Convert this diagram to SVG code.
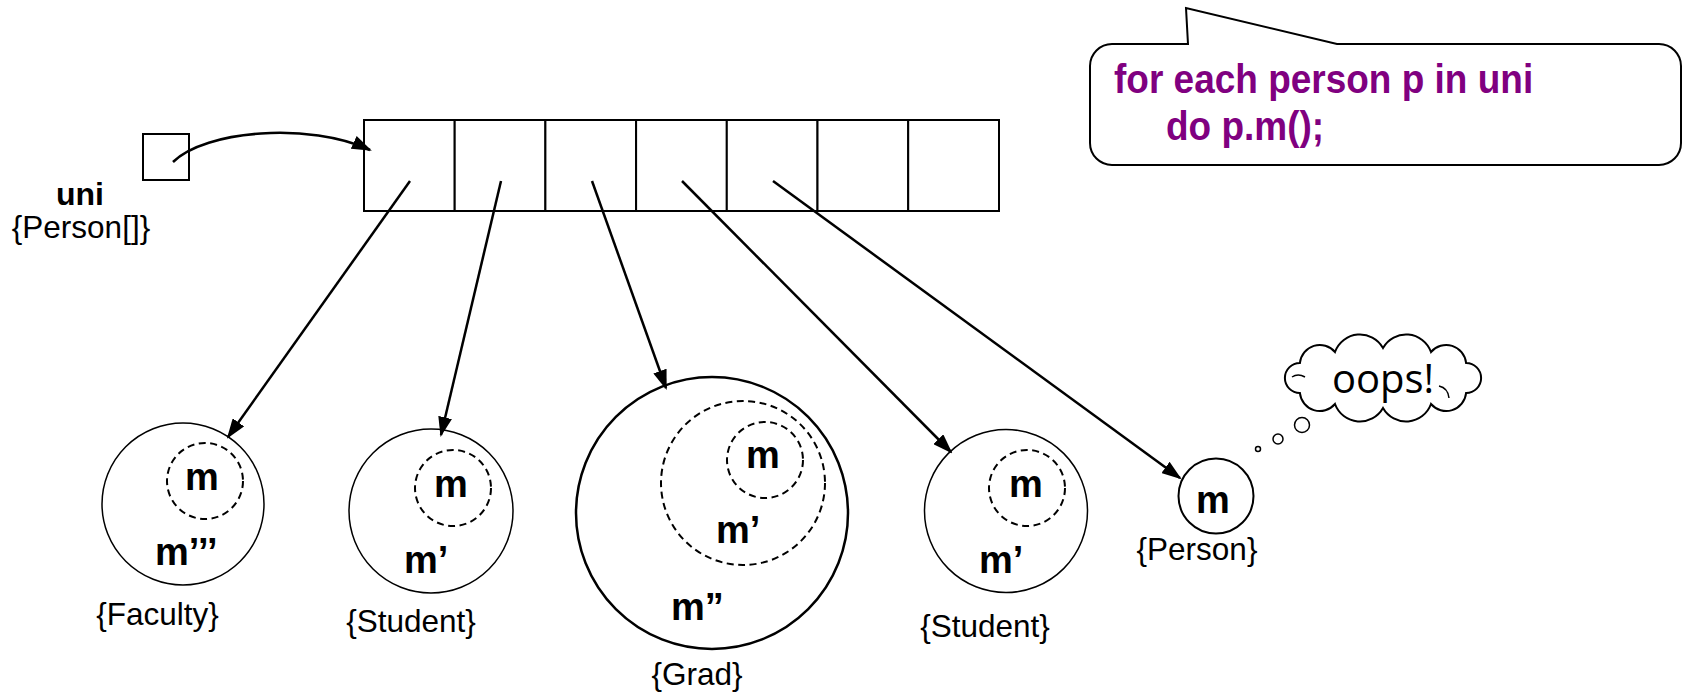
<svg xmlns="http://www.w3.org/2000/svg" width="1685" height="697" viewBox="0 0 1685 697">
  <style>
    .lbl { font-family: "Liberation Sans", Arial, sans-serif; font-size: 31.5px; fill: #000; }
    .meth { font-family: "Liberation Sans", Arial, sans-serif; font-size: 38px; font-weight: bold; fill: #000; }
    .code { font-family: "Liberation Sans", Arial, sans-serif; font-size: 37px; font-weight: bold; fill: #800080; }
    .obj { fill: #fff; stroke: #000; stroke-width: 1.5; }
    .dash { fill: none; stroke: #000; stroke-width: 2; stroke-dasharray: 7 4.5; }
    .cell { fill: #fff; stroke: #000; stroke-width: 2; }
    .ref { fill: none; stroke: #000; stroke-width: 2.5; marker-end: url(#head); }
  </style>
  <defs>
    <marker id="head" viewBox="0 0 20 14" refX="18" refY="7" markerWidth="20" markerHeight="14" markerUnits="userSpaceOnUse" orient="auto">
      <path d="M0,0 L20,7 L0,14 Z" fill="#000"/>
    </marker>
  </defs>

  <rect width="1685" height="697" fill="#fff"/>

  <!-- variable uni -->
  <g id="uni">
    <rect class="cell" x="143" y="134" width="46" height="46"/>
    <text x="80" y="205" text-anchor="middle" class="lbl" style="font-weight:bold;font-size:32px">uni</text>
    <text x="81" y="238" text-anchor="middle" class="lbl">{Person[]}</text>
  </g>

  <!-- the array object: seven slots -->
  <g id="array">
    <rect class="cell" x="364" y="120" width="90.7" height="91"/>
    <rect class="cell" x="454.7" y="120" width="90.7" height="91"/>
    <rect class="cell" x="545.4" y="120" width="90.7" height="91"/>
    <rect class="cell" x="636.1" y="120" width="90.7" height="91"/>
    <rect class="cell" x="726.8" y="120" width="90.7" height="91"/>
    <rect class="cell" x="817.5" y="120" width="90.7" height="91"/>
    <rect class="cell" x="908.2" y="120" width="90.8" height="91"/>
  </g>

  <!-- Faculty object -->
  <g id="faculty">
    <circle class="obj" cx="183" cy="504" r="81"/>
    <circle class="dash" cx="205" cy="481" r="38"/>
    <text x="202" y="490" text-anchor="middle" class="meth">m</text>
    <text x="155" y="565" class="meth">m’’’</text>
    <text x="157.5" y="625" text-anchor="middle" class="lbl">{Faculty}</text>
  </g>

  <!-- first Student object -->
  <g id="student1">
    <circle class="obj" cx="431" cy="511" r="82"/>
    <circle class="dash" cx="453" cy="488" r="38"/>
    <text x="451" y="497" text-anchor="middle" class="meth">m</text>
    <text x="404" y="573" class="meth">m’</text>
    <text x="411" y="632" text-anchor="middle" class="lbl">{Student}</text>
  </g>

  <!-- Grad object -->
  <g id="grad">
    <circle class="obj" cx="712" cy="513" r="136" style="stroke-width:2.5"/>
    <circle class="dash" cx="743" cy="483" r="82"/>
    <circle class="dash" cx="765" cy="460" r="38"/>
    <text x="763" y="468" text-anchor="middle" class="meth">m</text>
    <text x="716" y="543" class="meth">m’</text>
    <text x="671" y="620" class="meth">m”</text>
    <text x="697" y="685" text-anchor="middle" class="lbl">{Grad}</text>
  </g>

  <!-- second Student object -->
  <g id="student2">
    <circle class="obj" cx="1006" cy="511" r="81.5"/>
    <circle class="dash" cx="1027" cy="488" r="38"/>
    <text x="1026" y="497" text-anchor="middle" class="meth">m</text>
    <text x="979" y="573" class="meth">m’</text>
    <text x="985" y="637" text-anchor="middle" class="lbl">{Student}</text>
  </g>

  <!-- plain Person object -->
  <g id="person">
    <circle class="obj" cx="1216" cy="496" r="37.5" style="stroke-width:2"/>
    <text x="1213" y="513" text-anchor="middle" class="meth">m</text>
    <text x="1197" y="560" text-anchor="middle" class="lbl">{Person}</text>
  </g>

  <!-- thought cloud -->
  <g id="thought">
    <circle cx="1258" cy="449" r="2.5" fill="#fff" stroke="#000" stroke-width="1.5"/>
    <circle cx="1278" cy="439" r="5" fill="#fff" stroke="#000" stroke-width="1.5"/>
    <circle cx="1302" cy="425" r="7.5" fill="#fff" stroke="#000" stroke-width="1.5"/>
    <path d="M1466.1,393 A20,20 0 0 1 1431,404 A26.5,26.5 0 0 1 1383,408 A26.5,26.5 0 0 1 1335,404 A20,20 0 0 1 1299.9,393 A15,15 0 0 1 1299.9,363 A20,20 0 0 1 1335,352 A26.5,26.5 0 0 1 1383,348 A26.5,26.5 0 0 1 1431,352 A20,20 0 0 1 1466.1,363 A15,15 0 0 1 1466.1,393 Z" fill="#fff" stroke="#000" stroke-width="2"/>
    <path d="M1292,377 Q1298,373 1305,377 M1439,386 Q1448,388 1449,398" fill="none" stroke="#000" stroke-width="1.5"/>
    <text x="1383" y="393" text-anchor="middle" style="font-family:'Open Sans','DejaVu Sans',sans-serif;font-size:40px;fill:#000">oops!</text>
  </g>

  <!-- speech callout with the loop -->
  <g id="callout">
    <path d="M1112,44 L1188,44 L1186,8 L1337,44 L1659,44 A22,22 0 0 1 1681,66 L1681,143 A22,22 0 0 1 1659,165 L1112,165 A22,22 0 0 1 1090,143 L1090,66 A22,22 0 0 1 1112,44 Z" fill="#fff" stroke="#000" stroke-width="2"/>
    <text transform="translate(1114,93) scale(1,1.12)" class="code">for each person p in uni</text>
    <text transform="translate(1166,140) scale(1,1.12)" class="code">do p.m();</text>
  </g>

  <!-- references -->
  <g id="connectors">
    <path class="ref" d="M173,162 C205,130 310,122 370,150"/>
    <path class="ref" d="M410,181 L228,437"/>
    <path class="ref" d="M501,181 L441,435"/>
    <path class="ref" d="M592,181 L666,388"/>
    <path class="ref" d="M682,181 L951,452"/>
    <path class="ref" d="M773,181 L1180,478"/>
  </g>
</svg>
